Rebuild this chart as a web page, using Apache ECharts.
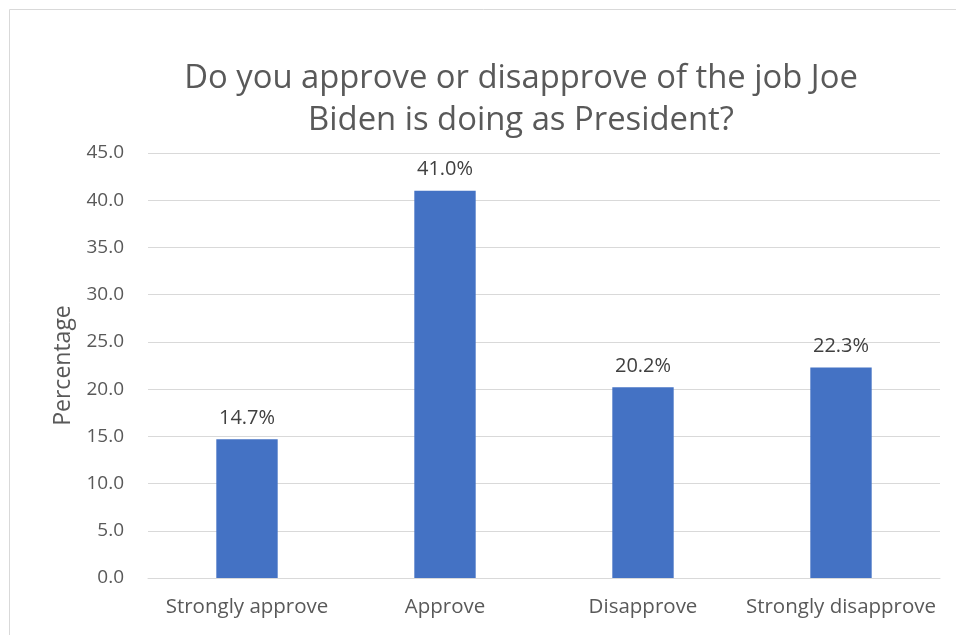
<!DOCTYPE html>
<html><head><meta charset="utf-8">
<script src="https://cdn.jsdelivr.net/npm/echarts@6/dist/echarts.min.js"></script>
<style>html,body{margin:0;padding:0;background:#fff}#c{width:956px;height:635px}</style>
</head><body><div id="c"></div>
<script>
const categories = ["Strongly approve", "Approve", "Disapprove", "Strongly disapprove"];
const percentages = [14.7, 41.0, 20.2, 22.3];
const yTicks = { min: 0, max: 45, interval: 5 };
const titleText = "Do you approve or disapprove of the job Joe\nBiden is doing as President?";
const yName = "Percentage";

const FONT = "Open Sans";
const chart = echarts.init(document.getElementById('c'));
chart.setOption({
  animation: false,
  textStyle: { fontFamily: FONT },
  graphic: [{
    type: 'rect', silent: true,
    shape: { x: 9.5, y: 9.5, width: 1200, height: 1200 },
    style: { fill: 'none', stroke: '#d9d9d9', lineWidth: 1 }
  }],
  title: {
    text: titleText, left: 516, top: 53, textAlign: 'center',
    textStyle: { fontFamily: FONT, fontSize: 32.8, fontWeight: 'normal', color: '#595959', lineHeight: 42 }
  },
  grid: { left: 148, right: 16, top: 153, bottom: 57, containLabel: false },
  xAxis: {
    type: 'category', data: categories,
    axisLine: { lineStyle: { color: '#d9d9d9', width: 1 } },
    axisTick: { show: false },
    axisLabel: { color: '#595959', fontSize: 20.5, margin: 19, fontFamily: FONT, interval: 0 }
  },
  yAxis: {
    type: 'value', min: yTicks.min, max: yTicks.max, interval: yTicks.interval,
    name: yName, nameLocation: 'middle', nameGap: 73, nameRotate: 90,
    nameTextStyle: { color: '#595959', fontSize: 23, fontFamily: FONT },
    axisLine: { show: false }, axisTick: { show: false },
    axisLabel: { color: '#595959', fontSize: 19, margin: 24, fontFamily: FONT,
      formatter: v => v.toFixed(1) },
    splitLine: { lineStyle: { color: '#d9d9d9', width: 1 } }
  },
  series: [{
    type: 'bar', data: percentages, barWidth: '31%',
    itemStyle: { color: '#4472C4' },
    label: { show: true, position: 'top', distance: 11, color: '#404040', fontSize: 20, fontFamily: FONT,
      formatter: p => p.value.toFixed(1) + '%' }
  }]
});
</script></body></html>
